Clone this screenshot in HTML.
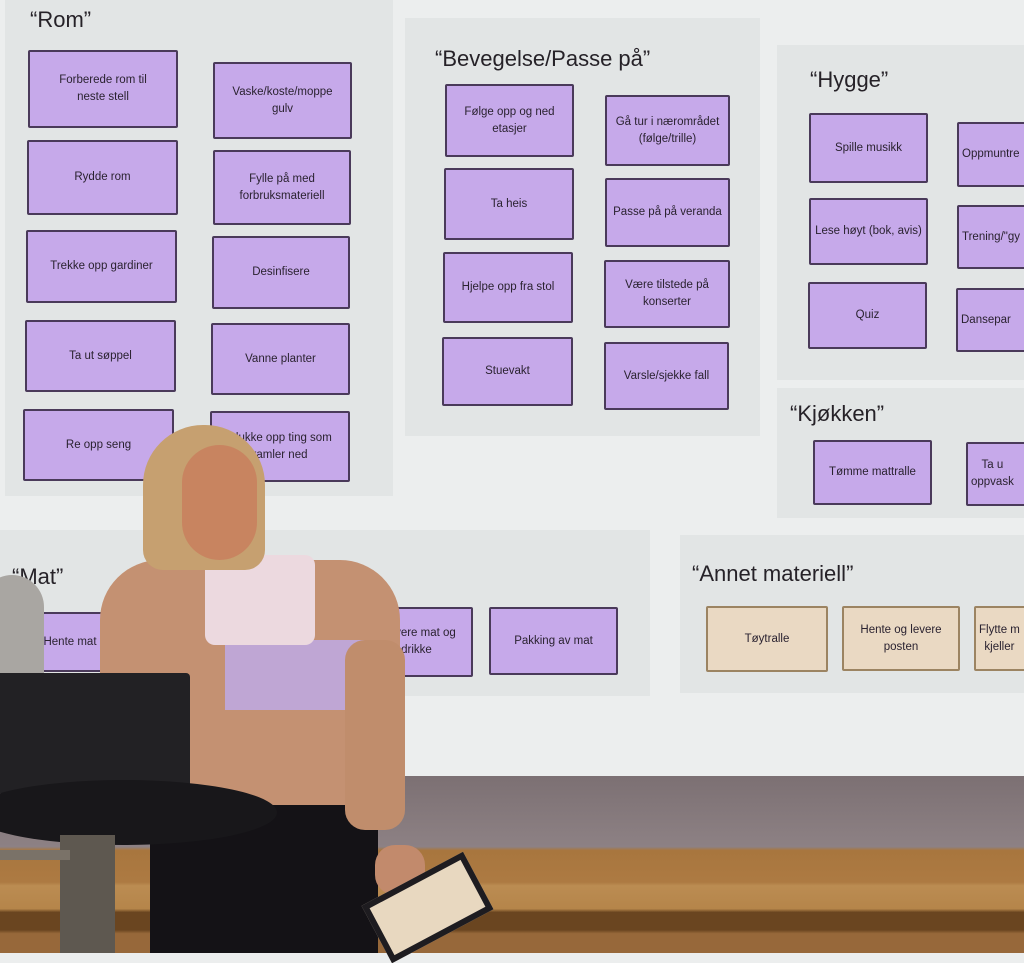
<!DOCTYPE html>
<html><head><meta charset="utf-8"><style>
*{margin:0;padding:0;box-sizing:border-box}
body{width:1024px;height:953px;overflow:hidden;position:relative;background:#eceeee;font-family:"Liberation Sans",sans-serif}
.a{position:absolute}
.p{position:absolute;background:#e2e5e5}
.b{position:absolute;background:#c6a9ea;border:2px solid #4a3a5a;border-radius:2px;display:flex;align-items:center;justify-content:center;text-align:center;font-size:11.5px;line-height:1.45;color:#2a2230;padding:3px}
.c{background:#ead9c3;border-color:#9c8462}
.t{position:absolute;font-size:22px;color:#262228}
</style></head><body>
<div class="p" style="left:5px;top:0;width:388px;height:496px"></div>
<div class="p" style="left:405px;top:18px;width:355px;height:418px"></div>
<div class="p" style="left:777px;top:45px;width:247px;height:335px"></div>
<div class="p" style="left:777px;top:388px;width:247px;height:130px"></div>
<div class="p" style="left:0;top:530px;width:650px;height:166px"></div>
<div class="p" style="left:680px;top:535px;width:344px;height:158px"></div>

<div class="t" style="left:30px;top:7px">“Rom”</div>
<div class="t" style="left:435px;top:46px">“Bevegelse/Passe på”</div>
<div class="t" style="left:810px;top:67px">“Hygge”</div>
<div class="t" style="left:790px;top:401px">“Kjøkken”</div>
<div class="t" style="left:12px;top:564px">“Mat”</div>
<div class="t" style="left:692px;top:561px">“Annet materiell”</div>

<div class="b" style="left:28px;top:50px;width:150px;height:78px">Forberede rom til<br>neste stell</div>
<div class="b" style="left:213px;top:62px;width:139px;height:77px">Vaske/koste/moppe<br>gulv</div>
<div class="b" style="left:27px;top:140px;width:151px;height:75px">Rydde rom</div>
<div class="b" style="left:213px;top:150px;width:138px;height:75px">Fylle på med<br>forbruksmateriell</div>
<div class="b" style="left:26px;top:230px;width:151px;height:73px">Trekke opp gardiner</div>
<div class="b" style="left:212px;top:236px;width:138px;height:73px">Desinfisere</div>
<div class="b" style="left:25px;top:320px;width:151px;height:72px">Ta ut søppel</div>
<div class="b" style="left:211px;top:323px;width:139px;height:72px">Vanne planter</div>
<div class="b" style="left:23px;top:409px;width:151px;height:72px">Re opp seng</div>
<div class="b" style="left:210px;top:411px;width:140px;height:71px">Plukke opp ting som<br>ramler ned</div>

<div class="b" style="left:445px;top:84px;width:129px;height:73px">Følge opp og ned<br>etasjer</div>
<div class="b" style="left:605px;top:95px;width:125px;height:71px">Gå tur i nærområdet<br>(følge/trille)</div>
<div class="b" style="left:444px;top:168px;width:130px;height:72px">Ta heis</div>
<div class="b" style="left:605px;top:178px;width:125px;height:69px">Passe på på veranda</div>
<div class="b" style="left:443px;top:252px;width:130px;height:71px">Hjelpe opp fra stol</div>
<div class="b" style="left:604px;top:260px;width:126px;height:68px">Være tilstede på<br>konserter</div>
<div class="b" style="left:442px;top:337px;width:131px;height:69px">Stuevakt</div>
<div class="b" style="left:604px;top:342px;width:125px;height:68px">Varsle/sjekke fall</div>

<div class="b" style="left:809px;top:113px;width:119px;height:70px">Spille musikk</div>
<div class="b" style="left:957px;top:122px;width:80px;height:65px;justify-content:flex-start">Oppmuntre</div>
<div class="b" style="left:809px;top:198px;width:119px;height:67px">Lese høyt (bok, avis)</div>
<div class="b" style="left:957px;top:205px;width:80px;height:64px;justify-content:flex-start">Trening/"gy</div>
<div class="b" style="left:808px;top:282px;width:119px;height:67px">Quiz</div>
<div class="b" style="left:956px;top:288px;width:80px;height:64px;justify-content:flex-start">Dansepar</div>

<div class="b" style="left:813px;top:440px;width:119px;height:65px">Tømme mattralle</div>
<div class="b" style="left:966px;top:442px;width:70px;height:64px;justify-content:flex-start">Ta u<br>oppvask</div>

<div class="b" style="left:30px;top:612px;width:80px;height:60px">Hente mat</div>
<div class="b" style="left:360px;top:607px;width:113px;height:70px">Servere mat og<br>drikke</div>
<div class="b" style="left:489px;top:607px;width:129px;height:68px">Pakking av mat</div>

<div class="b c" style="left:706px;top:606px;width:122px;height:66px">Tøytralle</div>
<div class="b c" style="left:842px;top:606px;width:118px;height:65px">Hente og levere<br>posten</div>
<div class="b c" style="left:974px;top:606px;width:70px;height:65px;justify-content:flex-start">Flytte m<br>kjeller</div>

<!-- below screen -->
<div class="a" style="left:0;top:776px;width:1024px;height:177px;background:linear-gradient(#7c7073,#8d8184 40%,#a8763e 42%,#ad7a42 60%,#bb8c52 62%,#b5854a 75%,#6a4520 77%,#6a4520 87%,#97683a 89%)"></div>

<div class="a" style="left:-20px;top:575px;width:64px;height:110px;border-radius:40px 40px 0 0;background:#a9a6a2"></div>

<!-- person -->
<div class="a" style="left:150px;top:770px;width:228px;height:183px;background:#141216"></div>
<div class="a" style="left:100px;top:560px;width:300px;height:245px;border-radius:60px 60px 20px 20px;background:#c49172"></div>
<div class="a" style="left:225px;top:640px;width:140px;height:70px;background:#bfa6d4"></div>
<div class="a" style="left:205px;top:555px;width:110px;height:90px;background:#ecd9df;border-radius:10px"></div>
<div class="a" style="left:345px;top:640px;width:60px;height:190px;border-radius:20px;background:#c08d6c"></div>
<div class="a" style="left:143px;top:425px;width:122px;height:145px;border-radius:60px 60px 20px 20px;background:#c6a070"></div>
<div class="a" style="left:182px;top:445px;width:75px;height:115px;border-radius:38px;background:#c88460"></div>
<div class="a" style="left:375px;top:845px;width:50px;height:50px;border-radius:20px;background:#c28a6c"></div>
<div class="a" style="left:370px;top:875px;width:115px;height:65px;background:#e8d8c0;border:6px solid #1e1c20;transform:rotate(-28deg)"></div>

<div class="a" style="left:-10px;top:673px;width:200px;height:120px;background:#222124;border-radius:4px"></div>
<div class="a" style="left:-30px;top:780px;width:307px;height:65px;border-radius:50%;background:#18171a"></div>
<div class="a" style="left:60px;top:835px;width:55px;height:118px;background:#5e5850"></div>
<div class="a" style="left:0;top:850px;width:70px;height:10px;background:#7a7268"></div>
</body></html>
